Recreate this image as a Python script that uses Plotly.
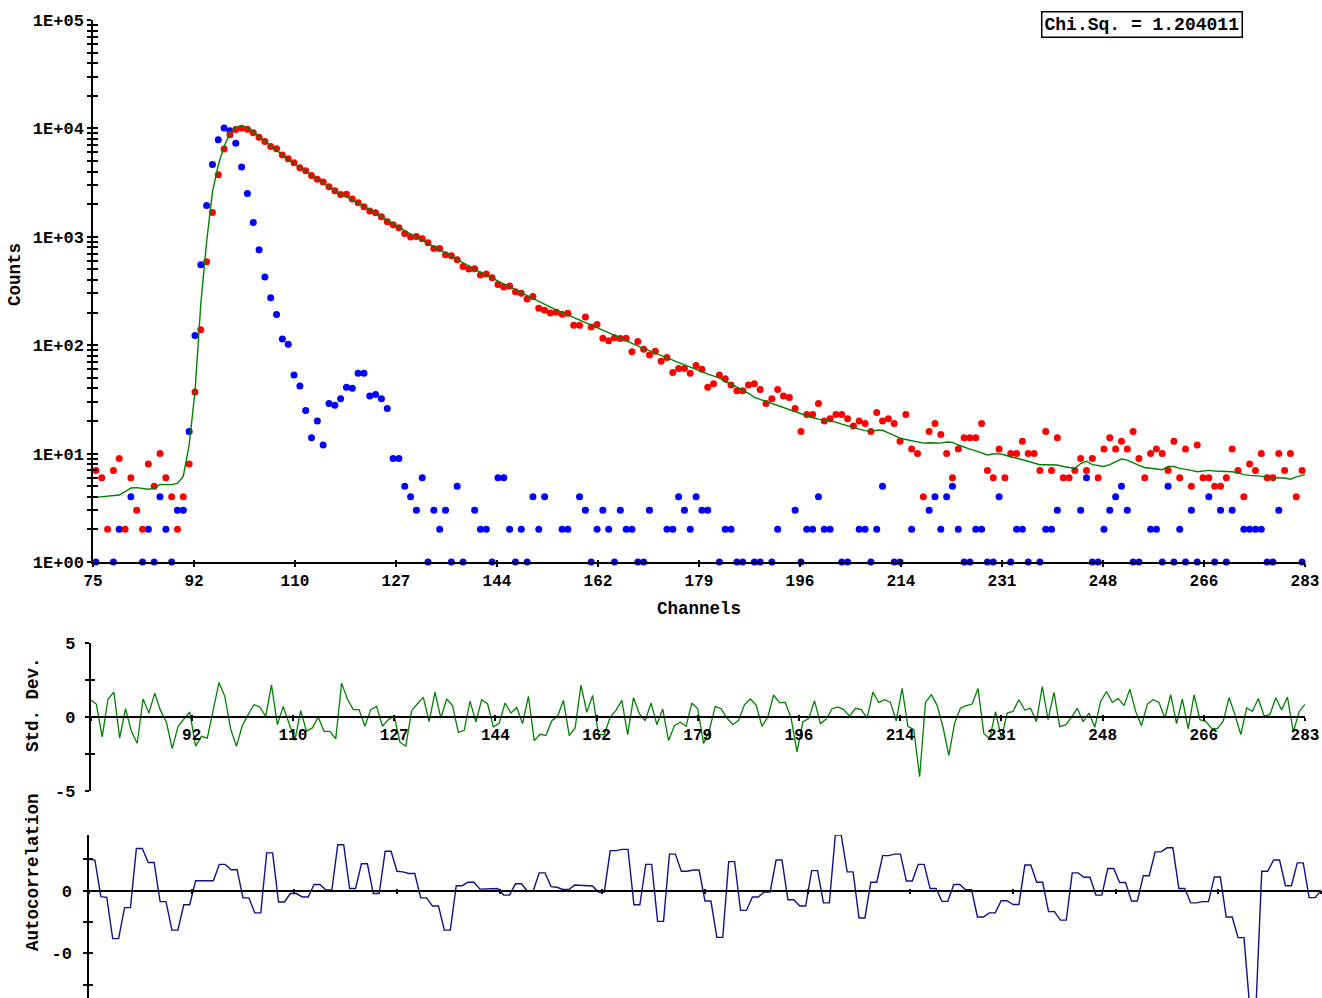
import plotly.graph_objects as go
import numpy as np

# ---------------- data ----------------
channels = list(range(75, 284))

decay_counts = [
    7, 6, 2, 7, 9, 2, 6, 3, 2, 8,
    5, 10, 6, 4, 2, 4, 8, 37, 139, 589,
    1680, 3730, 6440, 8730, 9780, 10050, 9800, 9100, 8300, 7570,
    6810, 6490, 5670, 5250, 4820, 4330, 4060, 3680, 3400, 3200,
    2890, 2660, 2460, 2470, 2230, 2060, 1890, 1730, 1670, 1530,
    1380, 1290, 1210, 1075, 995, 1005, 958, 883, 778, 778,
    684, 670, 615, 531, 505, 507, 444, 454, 420, 364,
    344, 352, 312, 301, 267, 282, 219, 210, 198, 201,
    193, 197, 153, 153, 182, 147, 155, 116, 110, 117,
    115, 116, 87, 108, 92, 81, 88, 71, 77, 56,
    61, 61, 55, 65, 60, 41, 44, 53, 49, 43,
    38, 38, 43, 44, 39, 29, 32, 39, 34, 33,
    26, 16, 23, 23, 29, 20, 21, 23, 23, 21,
    18, 20, 19, 16, 24, 20, 21, 19, 13, 23,
    11, 10, 4, 16, 19, 15, 10, 6, 11, 14,
    14, 14, 19, 7, 6, 11, 6, 10, 10, 13,
    10, 10, 7, 16, 7, 14, 6, 6, 7, 9,
    7, 9, 6, 11, 14, 11, 13, 11, 16, 9,
    6, 10, 11, 10, 7, 13, 6, 11, 5, 12,
    6, 6, 5, 5, 6, 11, 7, 4, 8, 7,
    10, 6, 6, 10, 7, 10, 4, 7, 9,
]

irf_counts = [
    1, 0, 0, 1, 2, 0, 4, 0, 1, 2,
    1, 4, 2, 1, 3, 3, 16, 123, 552, 1947,
    4650, 7850, 10100, 9500, 7310, 4395, 2512, 1357, 759, 425,
    274, 192, 114, 102, 53, 42, 25, 14, 20, 12,
    29, 28, 32, 41, 40, 55, 55, 34, 35, 32,
    26, 9, 9, 5, 4, 3, 6, 1, 3, 2,
    3, 1, 5, 1, 0, 3, 2, 2, 1, 6,
    6, 2, 1, 2, 1, 4, 2, 4, 0, 0,
    2, 2, 0, 4, 3, 1, 2, 3, 2, 1,
    3, 2, 2, 1, 1, 3, 0, 0, 2, 2,
    4, 3, 2, 4, 3, 3, 0, 1, 2, 2,
    1, 1, 0, 1, 1, 0, 1, 2, 0, 0,
    3, 1, 2, 2, 4, 2, 2, 0, 1, 1,
    0, 2, 2, 1, 2, 5, 0, 1, 1, 0,
    2, 0, 0, 3, 4, 2, 4, 5, 2, 1,
    1, 2, 2, 1, 1, 4, 0, 1, 2, 2,
    1, 0, 1, 2, 2, 3, 0, 0, 0, 3,
    6, 1, 1, 2, 3, 4, 5, 3, 1, 1,
    0, 2, 2, 1, 5, 1, 2, 1, 3, 1,
    0, 4, 1, 3, 1, 3, 0, 2, 2, 2,
    2, 1, 1, 3, 0, 0, 0, 1, 4,
]

fit_counts = [
    3.95, 4.0, 4.06, 4.1, 4.15, 4.45, 4.81, 4.85, 4.75, 4.69,
    4.78, 5.2, 5.17, 5.17, 5.31, 6.2, 12, 37, 240, 900,
    2600, 4600, 6800, 9000, 10250, 10550, 10150, 9350, 8410, 7590,
    6890, 6250, 5690, 5160, 4750, 4380, 4030, 3710, 3410, 3140,
    2890, 2660, 2500, 2340, 2200, 2060, 1910, 1780, 1650, 1530,
    1420, 1315, 1220, 1130, 1060, 993, 931, 871, 813, 759,
    708, 661, 617, 575, 533, 501, 471, 443, 416, 391,
    367, 343, 322, 303, 284, 267, 251, 237, 224, 212,
    201, 191, 181, 171, 163, 154, 146, 139, 132, 125,
    118, 111, 104, 98, 93, 89, 85, 80, 77, 73,
    69, 66, 63, 60, 57, 54, 52, 50, 46, 44,
    41, 38.5, 36, 33, 31.6, 30.3, 28.8, 27.5, 26.4, 25.4,
    24.4, 23.4, 22.4, 21.4, 20.8, 20.4, 20.0, 19.5, 18.7, 18.0,
    17.3, 16.8, 16.3, 16.0, 16.4, 16.4, 15.5, 14.6, 13.9, 13.5,
    13.1, 12.8, 12.5, 12.6, 12.6, 12.5, 12.8, 12.7, 12.0, 11.4,
    11.0, 10.6, 10.1, 9.7, 9.9, 10.0, 9.7, 9.3, 9.1, 8.8,
    8.5, 8.2, 7.9, 7.9, 7.9, 7.85, 7.6, 7.45, 7.3, 8.1,
    8.5, 7.9, 7.7, 7.6, 7.9, 8.4, 8.9, 8.7, 8.2, 7.8,
    7.45, 7.3, 7.2, 7.1, 7.6, 7.6, 7.3, 7.2, 7.0, 6.8,
    6.85, 7.0, 6.9, 6.9, 6.85, 6.8, 6.65, 6.4, 6.3, 6.25,
    6.2, 6.0, 6.0, 6.0, 5.95, 5.8, 6.1, 6.3, 6.5,
]

std_dev = [
    1.17, 0.88, -1.35, 1.22, 1.69, -1.42, 0.56, -0.97, -1.78, 1.22,
    0.27, 1.62, 0.43, -0.36, -2.14, -0.63, -0.14, 0.34, -1.98, -1.31,
    -1.44, 0.38, 2.34, 1.40, -0.81, -1.98, -0.59, 0.16, 0.83, 0.68,
    0.05, 2.18, -0.52, 0.72, -0.36, -1.58, 0.43, -0.97, -0.74, 0.0,
    -0.97, -0.97, -1.49, 2.30, 1.22, 0.50, 0.50, -0.63, 0.50, 0.72,
    -0.63, -0.18, 0.09, -1.71, -1.98, 0.43, 0.90, 1.33, -0.32, 1.69,
    -0.07, 1.22, 0.77, -1.04, -0.90, 1.08, -0.32, 1.17, 0.90, -0.68,
    -0.41, 0.95, 0.27, 0.65, -0.45, 1.40, -1.60, -1.17, -1.26, -0.25,
    0.05, 1.13, -1.26, -0.74, 2.16, 0.32, 1.46, -1.19, -1.19, 0.0,
    0.45, 1.13, -1.19, 1.31, 0.23, -0.25, 0.95, -0.52, 0.54, -1.60,
    -0.59, -0.36, -0.63, 0.95, 0.56, -1.80, -0.86, 0.72, 0.56, -0.07,
    -0.52, -0.23, 0.83, 1.22, 0.81, -0.63, 0.0, 1.49, 0.97, 0.99,
    -0.09, -2.36, -0.34, -0.11, 1.10, -0.45, -0.14, 0.56, 0.68, 0.50,
    0.05, 0.59, 0.50, -0.07, 1.69, 0.97, 1.17, 0.99, -0.27, 1.94,
    -0.63, -0.86, -4.05, 0.99, 1.51, 0.79, -0.68, -2.61, -0.41, 0.61,
    0.77, 0.88, 1.94, -1.13, -1.46, 0.36, -1.42, 0.27, 0.38, 1.17,
    0.47, 0.59, -0.32, 2.07, -0.18, 1.67, -0.65, -0.54, -0.02, 0.59,
    -0.32, 0.27, -0.70, 1.06, 1.73, 0.99, 1.26, 0.77, 1.89, 0.38,
    -0.59, 0.88, 1.17, 0.99, -0.07, 1.51, -0.45, 1.22, -0.81, 1.51,
    -0.18, -0.29, -0.77, -0.79, -0.29, 1.31, 0.16, -1.19, 0.61, 0.38,
    1.26, 0.07, 0.16, 1.31, 0.47, 1.35, -1.01, 0.36, 0.86,
]

autocorr = [
    1.0, 0.98, -0.19, -0.21, -1.53, -1.53, -0.54, -0.54, 1.35, 1.35,
    0.90, 0.90, -0.35, -0.35, -1.26, -1.26, -0.45, -0.45, 0.32, 0.32,
    0.32, 0.32, 0.84, 0.84, 0.67, 0.67, -0.23, -0.23, -0.71, -0.71,
    1.21, 1.21, -0.36, -0.36, -0.09, -0.09, -0.20, -0.20, 0.20, 0.20,
    0.02, 0.02, 1.47, 1.47, 0.07, 0.07, 0.86, 0.86, -0.09, -0.09,
    1.26, 1.26, 0.62, 0.60, 0.55, 0.55, -0.23, -0.23, -0.49, -0.49,
    -1.26, -1.26, 0.16, 0.16, 0.27, 0.27, 0.05, 0.05, 0.07, 0.07,
    -0.14, -0.14, 0.22, 0.22, -0.01, -0.01, 0.57, 0.57, 0.13, 0.11,
    0.04, 0.04, 0.18, 0.17, 0.15, 0.15, -0.04, -0.04, 1.28, 1.28,
    1.32, 1.32, -0.45, -0.45, 0.84, 0.84, -0.98, -0.98, 1.17, 1.17,
    0.62, 0.62, 0.66, 0.66, -0.33, -0.33, -1.49, -1.49, 0.93, 0.93,
    -0.63, -0.63, -0.20, -0.20, -0.04, -0.04, 0.98, 0.98, -0.29, -0.29,
    -0.49, -0.49, 0.64, 0.64, -0.39, -0.39, 1.78, 1.78, 0.60, 0.60,
    -0.87, -0.87, 0.27, 0.27, 1.12, 1.12, 1.17, 1.17, 0.31, 0.31,
    0.84, 0.84, 0.07, 0.07, -0.34, -0.34, 0.20, 0.20, 0.03, 0.03,
    -0.84, -0.84, -0.71, -0.71, -0.32, -0.32, -0.44, -0.44, 0.82, 0.82,
    0.27, 0.27, -0.67, -0.67, -0.94, -0.94, 0.57, 0.57, 0.43, 0.43,
    -0.14, -0.14, 0.71, 0.71, 0.26, 0.26, -0.33, -0.33, 0.48, 0.48,
    1.24, 1.24, 1.37, 1.37, 0.07, 0.07, -0.39, -0.39, -0.35, -0.35,
    0.44, 0.44, -0.84, -0.84, -1.50, -1.50, -3.8, -3.8, 0.62, 0.62,
    0.98, 0.98, 0.16, 0.16, 0.89, 0.89, -0.22, -0.22, 0.0,
]

x_tick_labels = ["75", "92", "110", "127", "144", "162", "179",
                 "196", "214", "231", "248", "266", "283"]
y_decade_labels = ["1E+00", "1E+01", "1E+02", "1E+03", "1E+04", "1E+05"]
std_tick_vals = [-5, -2.5, 0, 2.5, 5]
std_tick_text = ["-5", "", "0", "", "5"]
ac_tick_vals = [1, 0, -1, -2, -3]
ac_tick_text = ["", "0", "", "-0", ""]
chi_sq_text = "Chi.Sq. = 1.204011"

# ---------------- figure ----------------
W, H = 1322, 998
FONT = "Liberation Mono, Courier New, monospace"
ch = np.array(channels)
dot_x = ch + 0.5
x_ticks = np.linspace(channels[0], channels[-1], len(x_tick_labels))

y_ticks, y_text = [], []
for d in range(5):
    for m in range(1, 10):
        y_ticks.append(m * 10 ** d)
        y_text.append(y_decade_labels[d] if m == 1 else "")
y_ticks.append(10 ** 5)
y_text.append(y_decade_labels[5])

irf_plot = [v if v > 0 else None for v in irf_counts]
decay_plot = [v if v > 0 else None for v in decay_counts]

fig = go.Figure()
fig.add_trace(go.Scatter(x=dot_x, y=irf_plot, mode="markers",
                         marker=dict(color="#0000ff", size=7),
                         cliponaxis=False, xaxis="x", yaxis="y"))
fig.add_trace(go.Scatter(x=dot_x, y=decay_plot, mode="markers",
                         marker=dict(color="#ff0000", size=7),
                         cliponaxis=False, xaxis="x", yaxis="y"))
fig.add_trace(go.Scatter(x=dot_x, y=fit_counts, mode="lines",
                         line=dict(color="#008000", width=1.4),
                         xaxis="x", yaxis="y"))
fig.add_trace(go.Scatter(x=ch, y=std_dev, mode="lines",
                         line=dict(color="#008000", width=1.3),
                         xaxis="x2", yaxis="y2"))
fig.add_trace(go.Scatter(x=ch, y=autocorr, mode="lines",
                         line=dict(color="#101088", width=1.4),
                         xaxis="x3", yaxis="y3"))

# dummy traces for the twin (crossing-tick) axes
for xa, ya in [("x4", "y"), ("x", "y4"), ("x5", "y2"), ("x2", "y5"),
               ("x6", "y3"), ("x3", "y6")]:
    fig.add_trace(go.Scatter(x=[None], y=[None], xaxis=xa, yaxis=ya,
                             hoverinfo="skip", showlegend=False))


def ax(**kw):
    d = dict(showgrid=False, zeroline=False, showline=True, linecolor="black",
             linewidth=1.5, ticks="outside", ticklen=4, tickwidth=1.5,
             tickcolor="black", tickmode="array", automargin=False,
             tickfont=dict(family=FONT, size=16, color="black", weight="bold"))
    d.update(kw)
    return d


def twin(**kw):
    d = dict(showgrid=False, zeroline=False, showline=False, ticks="inside",
             ticklen=4, tickwidth=1.5, tickcolor="black", tickmode="array",
             showticklabels=False, automargin=False)
    d.update(kw)
    return d


pos_res = 1 - 717 / H
pos_ac = 1 - 890.7 / H
ac_range = [-(998 - 890.7) / 31.3, (890.7 - 835) / 31.3]
ytick_font = dict(family=FONT, size=17, color="black", weight="bold")

fig.update_layout(
    template="none",
    width=W, height=H, margin=dict(l=0, r=0, t=0, b=0, pad=0),
    plot_bgcolor="white", paper_bgcolor="white", showlegend=False,
    font=dict(family=FONT, size=16, color="black"),
    xaxis=ax(domain=[93 / W, 1305 / W], range=[75, 283], anchor="y",
             tickvals=x_ticks, ticktext=x_tick_labels, ticklen=3),
    yaxis=ax(domain=[1 - 562 / H, 1 - 20 / H], type="log", range=[0, 5],
             anchor="x", tickvals=y_ticks, ticktext=y_text,
             tickfont=ytick_font),
    xaxis4=twin(overlaying="x", anchor="y", range=[75, 283],
                tickvals=x_ticks, ticklen=2),
    yaxis4=twin(overlaying="y", anchor="x", type="log", range=[0, 5],
                tickvals=y_ticks, ticklen=5),
    xaxis2=ax(domain=[90.5 / W, 1305 / W], range=[75, 283], anchor="free",
              position=pos_res, tickvals=x_ticks,
              ticktext=[""] + x_tick_labels[1:], ticklen=3),
    yaxis2=ax(domain=[1 - 790.7 / H, 1 - 643.3 / H], range=[-5, 5],
              anchor="x2", tickvals=std_tick_vals, ticktext=std_tick_text,
              ticklabelstandoff=6, tickfont=ytick_font),
    xaxis5=twin(overlaying="x2", anchor="free", position=pos_res,
                range=[75, 283], tickvals=x_ticks, ticklen=2),
    yaxis5=twin(overlaying="y2", anchor="x2", range=[-5, 5],
                tickvals=std_tick_vals, ticklen=4),
    xaxis3=ax(domain=[89 / W, 1321 / W], range=[75, 283], anchor="free",
              position=pos_ac, tickvals=x_ticks, showticklabels=False,
              ticklen=3),
    yaxis3=ax(domain=[0, 1 - 835 / H], range=ac_range, anchor="x3",
              tickvals=ac_tick_vals, ticktext=ac_tick_text,
              ticklabelstandoff=8, tickfont=ytick_font),
    xaxis6=twin(overlaying="x3", anchor="free", position=pos_ac,
                range=[75, 283], tickvals=x_ticks, ticklen=2),
    yaxis6=twin(overlaying="y3", anchor="x3", range=ac_range,
                tickvals=ac_tick_vals, ticklen=4),
)

title_font = dict(family=FONT, size=17.5, color="black", weight="bold")
common = dict(xref="paper", yref="paper", showarrow=False,
              xanchor="center", yanchor="middle")
fig.add_annotation(x=699 / W, y=1 - 609 / H, text="Channels",
                   font=title_font, **common)
fig.add_annotation(x=15 / W, y=1 - 275 / H, text="Counts", textangle=-90,
                   font=title_font, **common)
fig.add_annotation(x=33 / W, y=1 - 705 / H, text="Std. Dev.",
                   textangle=-90, font=title_font, **common)
fig.add_annotation(x=33 / W, y=1 - 872 / H, text="Autocorrelation",
                   textangle=-90, font=title_font, **common)
fig.add_annotation(x=1142 / W, y=1 - 24 / H, text=chi_sq_text,
                   font=dict(family=FONT, size=18, color="black",
                             weight="bold"),
                   bordercolor="black", borderwidth=1.5, borderpad=2,
                   bgcolor="white", **common)

fig.write_html("out.html", config={"displayModeBar": False},
               post_script="document.body.style.margin='0';")
